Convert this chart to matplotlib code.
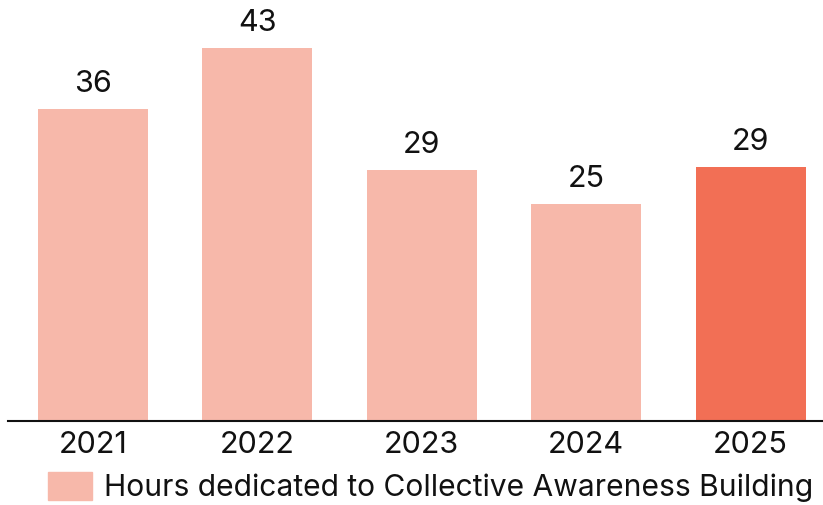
import matplotlib
matplotlib.use("Agg")
import matplotlib.pyplot as plt
from matplotlib.patches import Patch

years = ["2021", "2022", "2023", "2024", "2025"]
hours = [36, 43, 29, 25, 29.3]
labels = ["36", "43", "29", "25", "29"]

light = "#F7B8AA"
dark = "#F26F55"
colors = [light, light, light, light, dark]

plt.rcParams["font.family"] = ["Inter", "DejaVu Sans"]

fig = plt.figure(figsize=(8.23, 5.05), dpi=100)
ax = fig.add_axes([8 / 823, 84 / 505, 815 / 823, 416 / 505])

x = list(range(len(years)))
bars = ax.bar(x, hours, width=0.67, color=colors)

for xi, h, lab in zip(x, hours, labels):
    ax.annotate(lab, (xi, h), xytext=(0, 8), textcoords="offset points",
                ha="center", va="bottom", fontsize=22, color="#111111")

ax.set_xlim(-0.517, 4.44)
ax.set_ylim(0, 48)
ax.set_xticks(x)
ax.set_xticklabels(years, fontsize=22, color="#111111")
ax.tick_params(axis="x", length=0, pad=7)
ax.set_yticks([])
for s in ["top", "left", "right"]:
    ax.spines[s].set_visible(False)
ax.spines["bottom"].set_linewidth(1.5)
ax.spines["bottom"].set_color("#111111")

handle = Patch(color=light)
fig.legend([handle], ["Hours dedicated to Collective Awareness Building"],
           loc="lower left", bbox_to_anchor=(0.026, -0.048), frameon=False,
           fontsize=21.6, handlelength=1.47, handleheight=1.08, handletextpad=0.4,
           labelcolor="#111111")

fig.savefig("out.png", dpi=100)
